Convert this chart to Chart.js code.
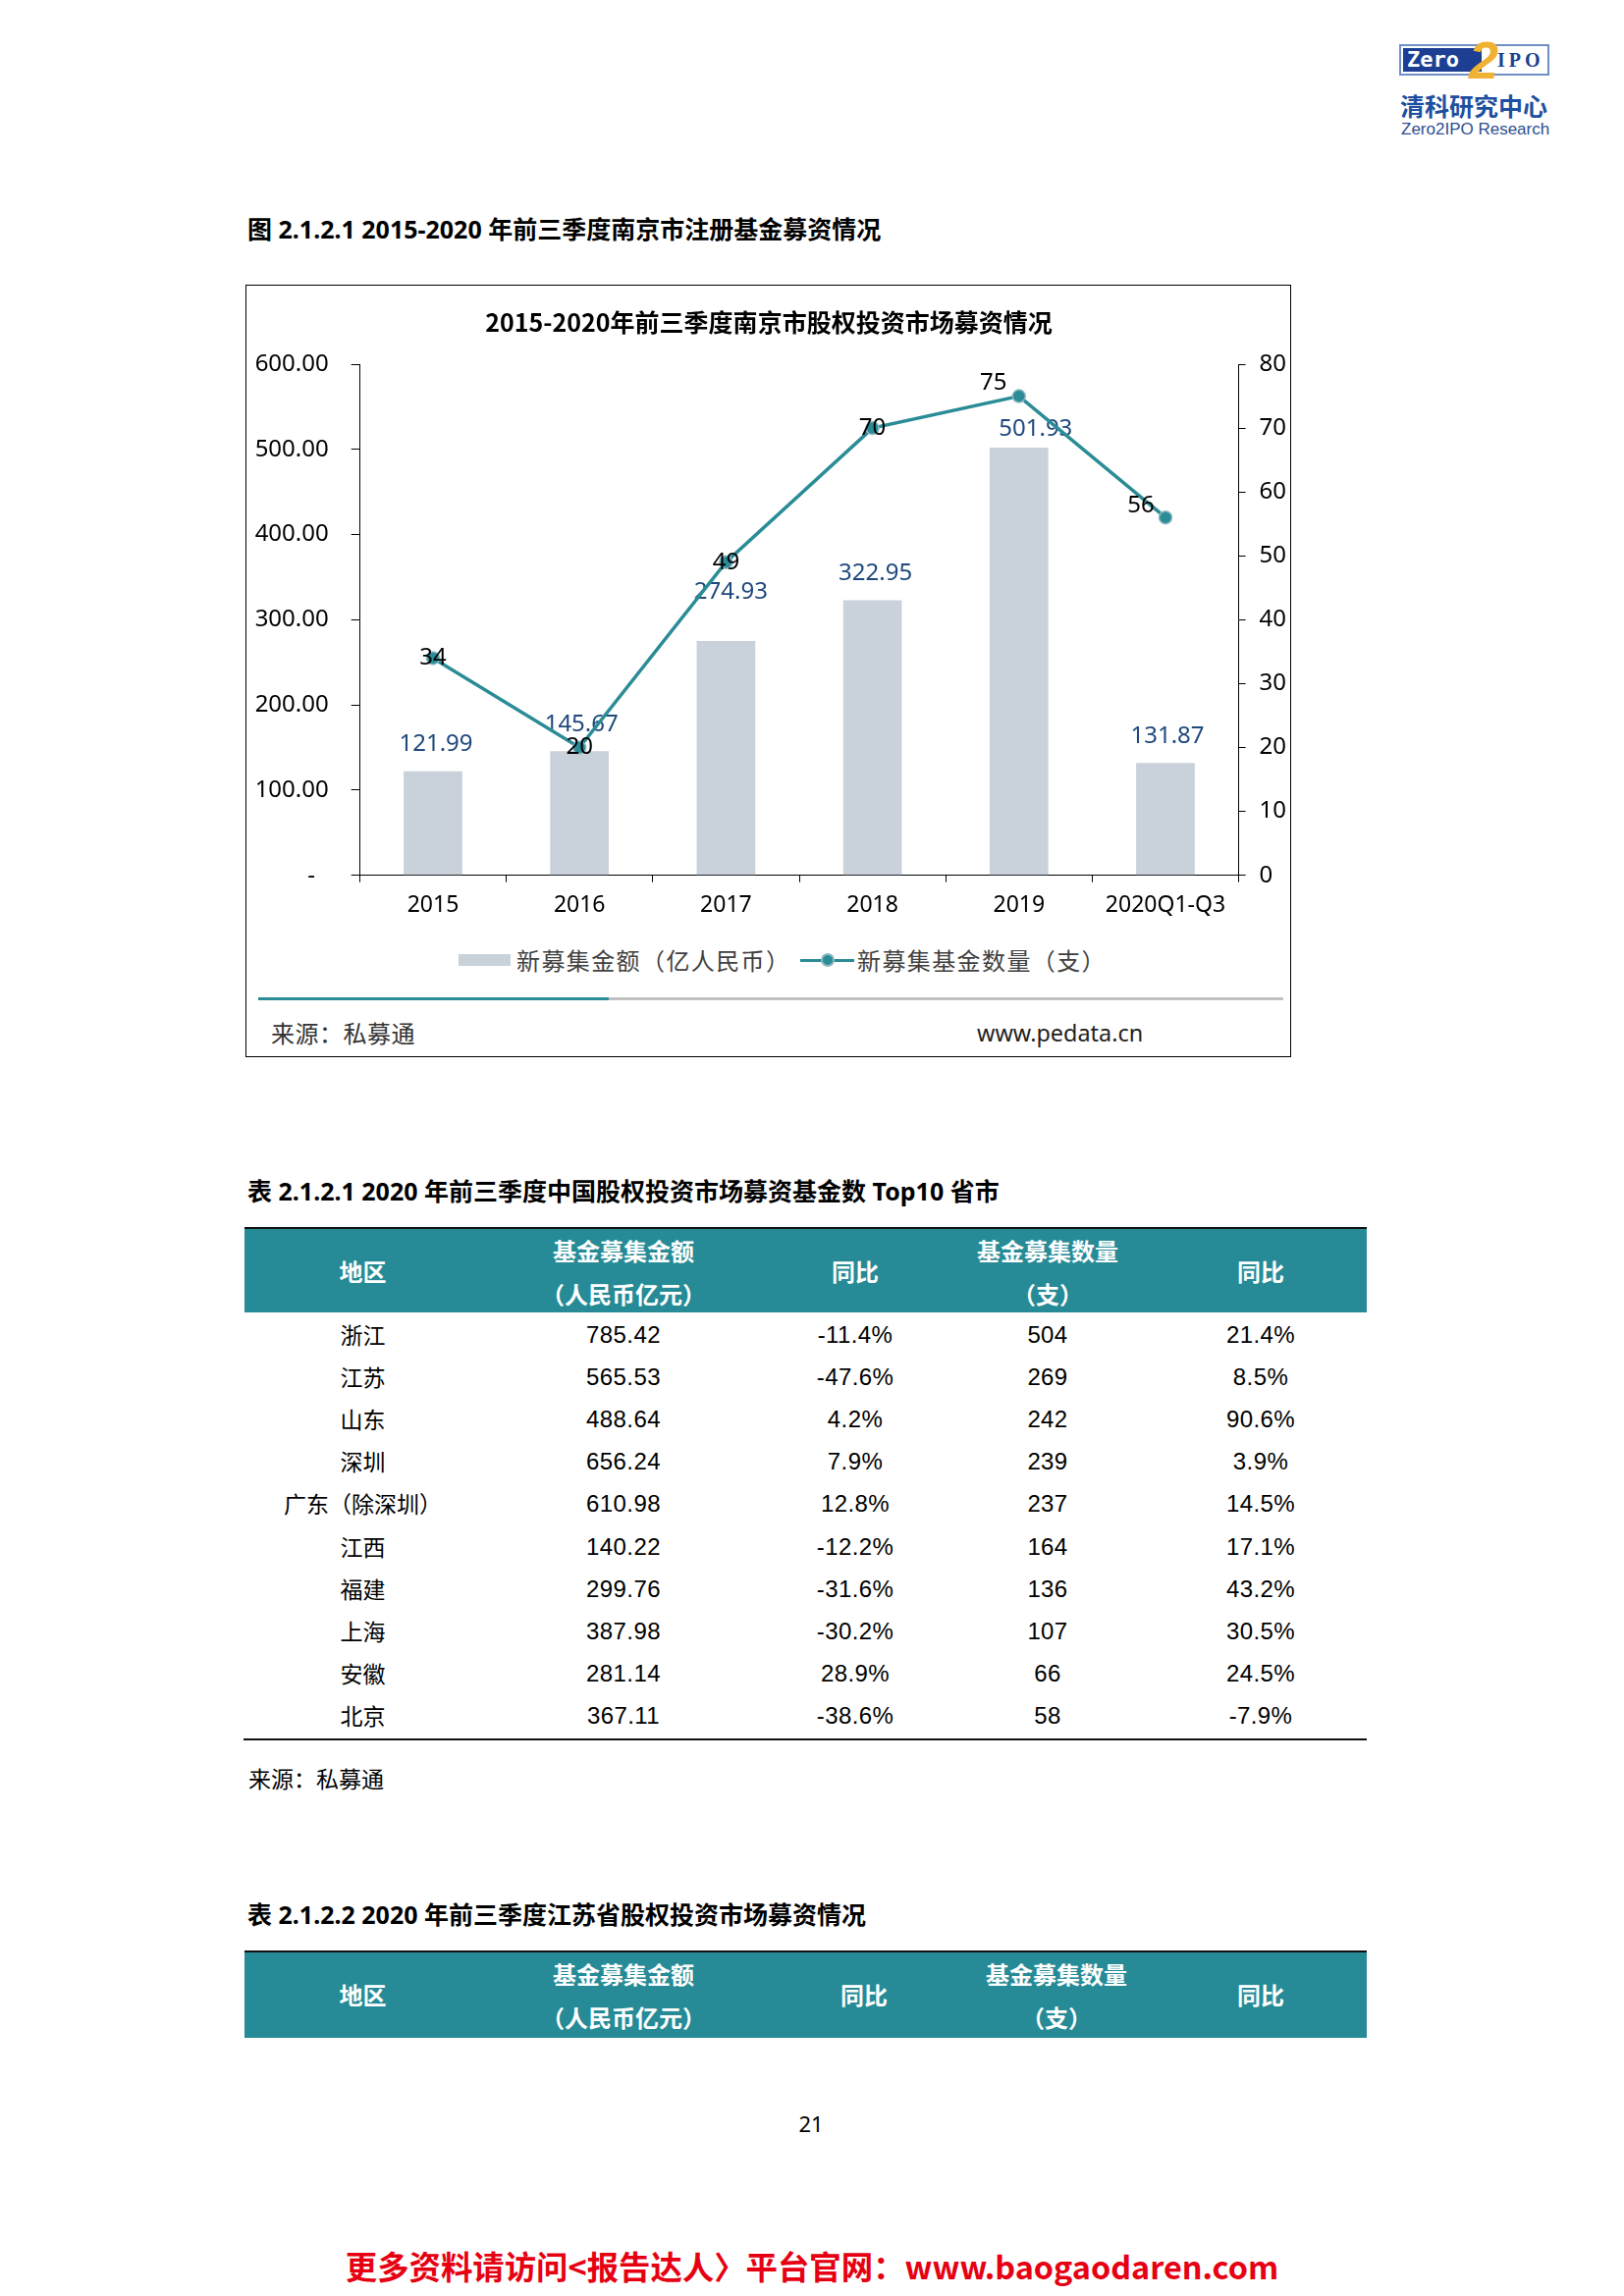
<!DOCTYPE html>
<html lang="zh-CN">
<head>
<meta charset="utf-8">
<title>2015-2020年前三季度南京市股权投资市场募资情况</title>
<script src="https://cdn.jsdelivr.net/npm/chart.js@4.4.1/dist/chart.umd.min.js"></script>
<style>
  html, body { margin: 0; padding: 0; background: #fff; }
  body {
    width: 1654px; height: 2339px; position: relative; overflow: hidden;
    font-family: "Noto Sans", "Noto Sans CJK SC", sans-serif; color: #000;
  }
  .abs { position: absolute; white-space: nowrap; line-height: 1.2; }
  .logo { line-height: 1; }
  .mid { transform: translateY(-50%); }
  .ctr { transform: translate(-50%, -50%); }
  .cap { font-family: "Noto Sans", "Noto Sans CJK SC", sans-serif; font-weight: bold; font-size: 25px; }
  .cjk { font-family: "Noto Sans CJK SC", sans-serif; }
  .lg { font-size: 24px; color: #404040; letter-spacing: 1.4px; }
  .head { font-family: "Noto Sans CJK SC", sans-serif; font-weight: bold; font-size: 24px; color: #fff; }
  .cell { font-family: "Liberation Sans", "Noto Sans CJK SC", sans-serif; font-size: 24px; letter-spacing: 0.4px; }
  .cellzh { font-family: "Noto Sans CJK SC", sans-serif; font-size: 23px; }
</style>
</head>
<body>

<!-- logo -->
<div class="abs" style="left:1425px;top:45px;width:153px;height:32px;border:2px solid #7090c8;box-sizing:border-box;background:#fff;"></div>
<div class="abs" style="left:1429px;top:49px;width:80px;height:24px;background:#1c3f94;"></div>
<div class="abs mid logo" style="left:1433px;top:61px;font-family:'DejaVu Sans Mono';font-weight:bold;font-size:22px;color:#fff;">Zero</div>
<div class="abs mid logo" style="left:1496px;top:61px;font-family:'Liberation Sans';font-weight:bold;font-style:italic;font-size:54px;color:#f0b232;">2</div>
<div class="abs mid logo" style="left:1525px;top:61px;font-family:'Liberation Serif';font-weight:bold;font-size:20px;color:#1c3f94;letter-spacing:4px;">IPO</div>
<div class="abs mid cjk logo" style="left:1426px;top:107px;font-weight:bold;font-size:25px;color:#1d50a0;">清科研究中心</div>
<div class="abs mid logo" style="left:1427px;top:131px;font-family:'Liberation Sans';font-size:17px;color:#2d4f91;">Zero2IPO Research</div>

<!-- figure caption -->
<div class="abs mid cap" style="left:252px;top:233px;">图 2.1.2.1 2015-2020 年前三季度南京市注册基金募资情况</div>

<!-- chart frame -->
<div class="abs" style="left:250px;top:290px;width:1065px;height:787px;border:1px solid #000;box-sizing:border-box;"></div>
<div class="abs" style="left:252px;top:291px;width:1062px;height:660px;">
  <canvas id="fundChart" width="1062" height="660"></canvas>
</div>

<!-- legend -->
<div class="abs" id="swBar" style="left:467px;top:972px;width:53px;height:12px;"></div>
<div class="abs mid cjk lg" id="lgBar" style="left:526px;top:978px;"></div>
<div class="abs" id="swLine" style="left:815px;top:976.5px;width:55px;height:3px;"></div>
<div class="abs" id="swDot" style="left:836px;top:971px;width:14px;height:14px;border-radius:50%;box-sizing:border-box;"></div>
<div class="abs mid cjk lg" id="lgLine" style="left:873px;top:978px;"></div>

<!-- separator + source -->
<div class="abs" style="left:263px;top:1015.5px;width:357px;height:3px;background:#2a8c96;"></div>
<div class="abs" style="left:620px;top:1015.5px;width:687px;height:3px;background:#c0c0c0;"></div>
<div class="abs mid cjk" style="left:276px;top:1052px;font-size:24px;color:#333;letter-spacing:0.5px;">来源：私募通</div>
<div class="abs mid" style="left:995px;top:1052px;font-size:23.4px;color:#222;">www.pedata.cn</div>

<!-- table 1 -->
<div class="abs mid cap" style="left:252px;top:1213px;">表 2.1.2.1 2020 年前三季度中国股权投资市场募资基金数 Top10 省市</div>
<div class="abs" style="left:249px;top:1250px;width:1143px;height:2px;background:#111;"></div>
<div class="abs" style="left:249px;top:1252px;width:1143px;height:85px;background:#268b96;"></div>
<div id="table1"></div>
<div class="abs" style="left:248px;top:1771px;width:1144px;height:1.5px;background:#111;"></div>
<div class="abs mid cjk" style="left:253px;top:1812px;font-size:23px;">来源：私募通</div>

<!-- table 2 -->
<div class="abs mid cap" style="left:252px;top:1950px;">表 2.1.2.2 2020 年前三季度江苏省股权投资市场募资情况</div>
<div class="abs" style="left:249px;top:1987px;width:1143px;height:2px;background:#111;"></div>
<div class="abs" style="left:249px;top:1989px;width:1143px;height:87px;background:#268b96;"></div>
<div id="table2"></div>

<!-- page number + footer -->
<div class="abs ctr" style="left:826px;top:2163px;font-size:22px;">21</div>
<div class="abs ctr cjk" style="left:827px;top:2308px;font-weight:bold;font-size:32.4px;color:#e60012;">更多资料请访问&lt;报告达人〉平台官网：www.baogaodaren.com</div>

<script>
// chart data
const years = ['2015', '2016', '2017', '2018', '2019', '2020Q1-Q3'];
const amounts = [121.99, 145.67, 274.93, 322.95, 501.93, 131.87];
const counts = [34, 20, 49, 70, 75, 56];
const amountName = '新募集金额（亿人民币）';
const countName = '新募集基金数量（支）';
const amountAxisMax = 600, amountAxisStep = 100;
const countAxisMax = 80, countAxisStep = 10;

// table data
const tableHead = ['地区', ['基金募集金额', '（人民币亿元）'], '同比', ['基金募集数量', '（支）'], '同比'];
const regions = ['浙江', '江苏', '山东', '深圳', '广东（除深圳）', '江西', '福建', '上海', '安徽', '北京'];
const fundAmount = ['785.42', '565.53', '488.64', '656.24', '610.98', '140.22', '299.76', '387.98', '281.14', '367.11'];
const amountYoY = ['-11.4%', '-47.6%', '4.2%', '7.9%', '12.8%', '-12.2%', '-31.6%', '-30.2%', '28.9%', '-38.6%'];
const fundCount = ['504', '269', '242', '239', '237', '164', '136', '107', '66', '58'];
const countYoY = ['21.4%', '8.5%', '90.6%', '3.9%', '14.5%', '17.1%', '43.2%', '30.5%', '24.5%', '-7.9%'];

const barColor = '#c9d1da';
const lineColor = '#2a8c96';
const dotBorder = '#8fb9c3';

// legend
document.getElementById('swBar').style.background = barColor;
document.getElementById('lgBar').textContent = amountName;
document.getElementById('swLine').style.background = lineColor;
const dot = document.getElementById('swDot');
dot.style.background = lineColor;
dot.style.border = '2px solid ' + dotBorder;
document.getElementById('lgLine').textContent = countName;

// tables
function put(parent, cls, text, x, y) {
  const d = document.createElement('div');
  d.className = 'abs ctr ' + cls;
  d.style.left = x + 'px';
  d.style.top = y + 'px';
  d.textContent = text;
  parent.appendChild(d);
}
function header(id, cols, top) {
  const el = document.getElementById(id);
  tableHead.forEach((h, c) => {
    if (Array.isArray(h)) {
      put(el, 'head', h[0], cols[c], top + 22);
      put(el, 'head', h[1], cols[c], top + 66);
    } else {
      put(el, 'head', h, cols[c], top + 43);
    }
  });
}
const cols1 = [369.5, 635, 871, 1067, 1284];
const cols2 = [369.5, 635, 880, 1076, 1284];
header('table1', cols1, 1252);
header('table2', cols2, 1989);
const t1 = document.getElementById('table1');
regions.forEach((r, i) => {
  const y = 1360 + i * 43.1;
  put(t1, 'cellzh', r, cols1[0], y);
  put(t1, 'cell', fundAmount[i], cols1[1], y);
  put(t1, 'cell', amountYoY[i], cols1[2], y);
  put(t1, 'cell', fundCount[i], cols1[3], y);
  put(t1, 'cell', countYoY[i], cols1[4], y);
});

// label placement (pixel nudges, as in the original)
const barLabelShift = [[3, -28], [2, -27], [5, -50], [3, -27], [17, -19], [2, -27]];
const lineLabelShift = [[0, 0], [0, 0], [0, 0], [0, 0], [-26, -13], [-25, -12]];

const valueLabels = {
  id: 'valueLabels',
  afterDatasetDraw(chart, args) {
    if (args.index !== 0) return;
    const ctx = chart.ctx;
    ctx.save();
    ctx.font = '24px "Noto Sans", sans-serif';
    ctx.textAlign = 'center';
    ctx.textBaseline = 'middle';
    ctx.fillStyle = '#1f497d';
    args.meta.data.forEach((bar, i) => {
      ctx.fillText(amounts[i].toFixed(2), bar.x + barLabelShift[i][0], bar.y + barLabelShift[i][1]);
    });
    ctx.restore();
  },
  afterDatasetsDraw(chart) {
    const ctx = chart.ctx;
    ctx.save();
    ctx.font = '24px "Noto Sans", sans-serif';
    ctx.textAlign = 'center';
    ctx.textBaseline = 'middle';
    ctx.fillStyle = '#000';
    chart.getDatasetMeta(1).data.forEach((pt, i) => {
      ctx.fillText(String(counts[i]), pt.x + lineLabelShift[i][0], pt.y + lineLabelShift[i][1]);
    });
    ctx.restore();
  }
};

Chart.defaults.font.family = '"Noto Sans", "Noto Sans CJK SC", sans-serif';
Chart.defaults.color = '#000';

const ctx = document.getElementById('fundChart').getContext('2d');
new Chart(ctx, {
  type: 'bar',
  data: {
    labels: years,
    datasets: [{
      type: 'bar',
      label: amountName,
      data: amounts,
      backgroundColor: barColor,
      categoryPercentage: 1,
      barPercentage: 0.4,
      yAxisID: 'y',
      order: 2
    }, {
      type: 'line',
      label: countName,
      data: counts,
      borderColor: lineColor,
      borderWidth: 3.5,
      pointRadius: 6.5,
      pointBackgroundColor: lineColor,
      pointBorderColor: dotBorder,
      pointBorderWidth: 1.5,
      tension: 0,
      yAxisID: 'y1',
      order: 1
    }]
  },
  options: {
    responsive: false,
    animation: false,
    layout: { padding: 0 },
    plugins: {
      legend: { display: false },
      tooltip: { enabled: false },
      title: {
        display: true,
        text: '2015-2020年前三季度南京市股权投资市场募资情况',
        font: { family: '"Noto Sans CJK SC", sans-serif', size: 25, weight: 'bold' },
        color: '#000',
        padding: { top: 22, bottom: 28 }
      }
    },
    scales: {
      x: {
        offset: true,
        grid: { offset: true, drawOnChartArea: false, tickLength: 7, color: '#000', lineWidth: 1 },
        border: { color: '#000', width: 1 },
        ticks: { font: { size: 23 }, padding: 10, maxRotation: 0 },
        afterFit(s) { s.height = 59.3; }
      },
      y: {
        position: 'left',
        min: 0, max: amountAxisMax,
        grid: { drawOnChartArea: false, tickLength: 8.7, color: '#000', lineWidth: 1 },
        border: { color: '#000', width: 1 },
        ticks: {
          stepSize: amountAxisStep,
          font: { size: 24 },
          padding: 23,
          callback: v => v === 0 ? '-\u2007' : v.toFixed(2)
        },
        afterFit(s) { s.width = 114.4; }
      },
      y1: {
        position: 'right',
        min: 0, max: countAxisMax,
        grid: { drawOnChartArea: false, tickLength: 7, color: '#000', lineWidth: 1 },
        border: { color: '#000', width: 1 },
        ticks: { stepSize: countAxisStep, font: { size: 24 }, padding: 14 },
        afterFit(s) { s.width = 52.4; }
      }
    }
  },
  plugins: [valueLabels]
});
</script>
</body>
</html>
